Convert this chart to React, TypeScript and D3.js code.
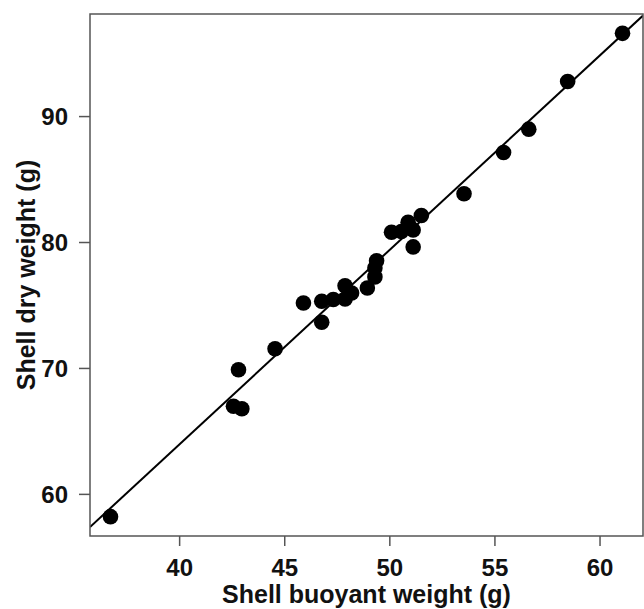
import React, { useEffect, useRef } from 'react';
import * as d3 from 'd3';

// Shell buoyant weight (g) vs shell dry weight (g)
const buoyantWeight = [
  36.71, 42.56, 42.96, 42.8, 44.54, 45.89, 46.76, 46.76, 47.31, 47.87, 47.87, 48.18, 48.93, 49.29,
  49.29, 49.37, 50.08, 50.55, 50.87, 51.11, 51.11, 51.5, 53.53, 55.41, 56.61, 58.46, 61.07,
];
const dryWeight = [
  58.23, 67.0, 66.8, 69.9, 71.56, 75.2, 73.67, 75.33, 75.47, 75.52, 76.57, 75.99, 76.39, 77.27,
  77.98, 78.55, 80.82, 80.88, 81.6, 81.0, 79.65, 82.15, 83.87, 87.15, 89.0, 92.78, 96.61,
];
const xTicks = [40, 45, 50, 55, 60];
const yTicks = [60, 70, 80, 90];
// fitted line
const fitIntercept = 2.24;
const fitSlope = 1.5437;

const W = 644;
const H = 609;
const M = { left: 90, right: 643, top: 14, bottom: 536 };

const padded = (vals: number[]) => {
  const [lo, hi] = d3.extent(vals) as [number, number];
  const p = (hi - lo) * 0.04;
  return [lo - p, hi + p];
};

const App = () => {
  const svgRef = useRef<SVGSVGElement>(null);

  useEffect(() => {
    if (!svgRef.current) return;
    const svg = d3.select(svgRef.current);
    svg.selectAll('*').remove();

    const x = d3.scaleLinear().domain(padded(buoyantWeight)).range([M.left, M.right]);
    const y = d3.scaleLinear().domain(padded(dryWeight)).range([M.bottom, M.top]);
    const font = '"Liberation Sans", Arial, sans-serif';
    const axisColor = '#555';

    svg.append('clipPath').attr('id', 'plotClip')
      .append('rect')
      .attr('x', M.left).attr('y', M.top)
      .attr('width', M.right - M.left).attr('height', M.bottom - M.top);

    // regression line
    const [x0, x1] = x.domain();
    svg.append('line')
      .attr('clip-path', 'url(#plotClip)')
      .attr('x1', x(x0)).attr('y1', y(fitIntercept + fitSlope * x0))
      .attr('x2', x(x1)).attr('y2', y(fitIntercept + fitSlope * x1))
      .attr('stroke', '#000')
      .attr('stroke-width', 2);

    // points
    svg.append('g')
      .selectAll('circle')
      .data(buoyantWeight.map((v, i) => [v, dryWeight[i]]))
      .enter()
      .append('circle')
      .attr('cx', d => x(d[0]))
      .attr('cy', d => y(d[1]))
      .attr('r', 7.8)
      .attr('fill', '#000');

    // box
    svg.append('rect')
      .attr('x', M.left).attr('y', M.top)
      .attr('width', M.right - M.left).attr('height', M.bottom - M.top)
      .attr('fill', 'none')
      .attr('stroke', axisColor)
      .attr('stroke-width', 1.5);

    // x axis
    const xa = svg.append('g');
    xa.selectAll('line').data(xTicks).enter().append('line')
      .attr('x1', d => x(d)).attr('x2', d => x(d))
      .attr('y1', M.bottom).attr('y2', M.bottom + 10)
      .attr('stroke', axisColor).attr('stroke-width', 1.5);
    xa.selectAll('text').data(xTicks).enter().append('text')
      .attr('x', d => x(d)).attr('y', 576)
      .attr('text-anchor', 'middle')
      .attr('font-family', font).attr('font-weight', 'bold').attr('font-size', 24)
      .attr('fill', '#111')
      .text(d => d);

    // y axis
    const ya = svg.append('g');
    ya.selectAll('line').data(yTicks).enter().append('line')
      .attr('x1', M.left - 11).attr('x2', M.left)
      .attr('y1', d => y(d)).attr('y2', d => y(d))
      .attr('stroke', axisColor).attr('stroke-width', 1.5);
    ya.selectAll('text').data(yTicks).enter().append('text')
      .attr('x', 68).attr('y', d => y(d))
      .attr('dy', '0.36em')
      .attr('text-anchor', 'end')
      .attr('font-family', font).attr('font-weight', 'bold').attr('font-size', 24)
      .attr('fill', '#111')
      .text(d => d);

    // titles
    svg.append('text')
      .attr('x', (M.left + M.right) / 2).attr('y', 603)
      .attr('text-anchor', 'middle')
      .attr('font-family', font).attr('font-weight', 'bold').attr('font-size', 25)
      .attr('fill', '#111')
      .text('Shell buoyant weight (g)');

    svg.append('text')
      .attr('transform', `translate(35, ${(M.top + M.bottom) / 2}) rotate(-90)`)
      .attr('text-anchor', 'middle')
      .attr('font-family', font).attr('font-weight', 'bold').attr('font-size', 25)
      .attr('fill', '#111')
      .text('Shell dry weight (g)');
  }, []);

  return (
    <div style={{ position: 'fixed', left: 0, top: 0, width: W, height: H, background: '#fff' }}>
      <svg ref={svgRef} width={W} height={H} viewBox={`0 0 ${W} ${H}`} style={{ display: 'block' }} />
    </div>
  );
};

export default App;
